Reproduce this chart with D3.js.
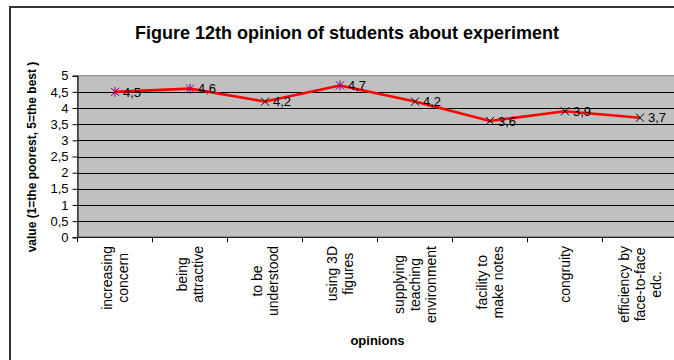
<!DOCTYPE html>
<html>
<head>
<meta charset="utf-8">
<script src="https://cdn.jsdelivr.net/npm/d3@7/dist/d3.min.js"></script>
<style>
  html, body { margin: 0; padding: 0; background: #fff; }
  svg { display: block; font-family: Arial, "Liberation Sans", sans-serif; }
</style>
</head>
<body>
<svg id="chart" width="674" height="360"></svg>
<script>
// Opinion categories (each entry split into the lines it is printed on)
const categories = [
  ["increasing", "concern"],
  ["being", "attractive"],
  ["to be", "understood"],
  ["using 3D", "figures"],
  ["supplying", "teaching", "environment"],
  ["facility to", "make notes"],
  ["congruity"],
  ["efficiency by", "face-to-face", "edc."]
];
// Mean score per opinion
const values = [4.5, 4.6, 4.2, 4.7, 4.2, 3.6, 3.9, 3.7];
// Marker style per point
const markers = ["star", "star", "x", "star", "x", "x", "x", "x"];
// Value axis ticks
const yTicks = [0, 0.5, 1, 1.5, 2, 2.5, 3, 3.5, 4, 4.5, 5];

const svg = d3.select("#chart");
const fmt = v => String(v).replace(".", ",");

const plot = { left: 77.5, right: 677.5, top: 75.7, bottom: 237.3 };

const x = d3.scaleBand()
  .domain(d3.range(categories.length))
  .range([plot.left, plot.right]);
const y = d3.scaleLinear().domain([0, 5]).range([plot.bottom, plot.top]);
const cx = i => x(i) + x.bandwidth() / 2;

// outer chart frame
svg.append("rect")
  .attr("x", 10).attr("y", 7).attr("width", 700).attr("height", 400)
  .attr("fill", "none").attr("stroke", "#333").attr("stroke-width", 2);

// title
svg.append("text")
  .attr("x", 347).attr("y", 39)
  .attr("text-anchor", "middle")
  .attr("font-weight", "bold").attr("font-size", 18)
  .text("Figure 12th opinion of students about experiment");

// plot background
svg.append("rect")
  .attr("x", plot.left).attr("y", plot.top)
  .attr("width", plot.right - plot.left).attr("height", plot.bottom - plot.top)
  .attr("fill", "#C0C0C0").attr("stroke", "#808080").attr("stroke-width", 1);

// gridlines
svg.append("g").selectAll("line")
  .data(yTicks.filter(t => t > 0 && t < 5))
  .join("line")
  .attr("x1", plot.left).attr("x2", plot.right)
  .attr("y1", d => Math.round(y(d)) + 0.5).attr("y2", d => Math.round(y(d)) + 0.5)
  .attr("stroke", "#000").attr("stroke-width", 1);

// value axis
const yAxis = d3.axisLeft(y).tickValues(yTicks).tickSize(5).tickPadding(4)
  .tickFormat(fmt);
const gy = svg.append("g")
  .attr("transform", `translate(${plot.left},0)`)
  .call(yAxis);
gy.select(".domain").attr("stroke", "#000");
gy.selectAll(".tick line").attr("stroke", "#000");
gy.selectAll(".tick text").attr("font-size", 13).attr("fill", "#000")
  .attr("font-family", "Arial, 'Liberation Sans', sans-serif");

// category axis (ticks at band boundaries)
const gx = svg.append("g");
gx.append("line")
  .attr("x1", plot.left).attr("x2", plot.right)
  .attr("y1", plot.bottom).attr("y2", plot.bottom)
  .attr("stroke", "#000");
gx.selectAll("line.tk")
  .data(d3.range(categories.length + 1))
  .join("line").attr("class", "tk")
  .attr("x1", i => plot.left + i * x.step()).attr("x2", i => plot.left + i * x.step())
  .attr("y1", plot.bottom).attr("y2", plot.bottom + 5)
  .attr("stroke", "#000");

// category labels, rotated, lines centred within each block
const lineGap = 16;
const labelTop = 246;
categories.forEach((lines, i) => {
  const g = svg.append("g");
  const texts = lines.map((ln, j) => g.append("text")
    .attr("font-size", 14).attr("text-anchor", "middle")
    .attr("dy", "0.35em")
    .text(ln));
  const maxLen = d3.max(texts, t => t.node().getComputedTextLength());
  const cy = labelTop + maxLen / 2;
  texts.forEach((t, j) => {
    const lx = cx(i) + (j - (lines.length - 1) / 2) * lineGap;
    t.attr("transform", `translate(${lx},${cy}) rotate(-90)`);
  });
});

// axis titles
svg.append("text")
  .attr("x", 377.5).attr("y", 345)
  .attr("text-anchor", "middle")
  .attr("font-weight", "bold").attr("font-size", 13)
  .text("opinions");

svg.append("text")
  .attr("transform", "translate(36,157) rotate(-90)")
  .attr("text-anchor", "middle")
  .attr("font-weight", "bold").attr("font-size", 12)
  .text("value (1=the poorest, 5=the best )");

// series line
const line = d3.line().x((d, i) => cx(i)).y(d => y(d));
svg.append("path")
  .datum(values)
  .attr("d", line)
  .attr("fill", "none").attr("stroke", "#FF0000").attr("stroke-width", 2.6)
  .attr("stroke-linejoin", "round");

// markers
const mk = svg.append("g");
values.forEach((v, i) => {
  const px = cx(i), py = y(v);
  const r = 4;
  const col = markers[i] === "star" ? "#800080" : "#000";
  const g = mk.append("g").attr("stroke", col).attr("stroke-width", 1);
  g.append("line").attr("x1", px - r).attr("y1", py - r).attr("x2", px + r).attr("y2", py + r);
  g.append("line").attr("x1", px - r).attr("y1", py + r).attr("x2", px + r).attr("y2", py - r);
  if (markers[i] === "star") {
    g.append("line").attr("x1", px).attr("y1", py - r - 1).attr("x2", px).attr("y2", py + r + 1);
  }
});

// data labels
svg.append("g").selectAll("text")
  .data(values)
  .join("text")
  .attr("x", (d, i) => cx(i) + 8)
  .attr("y", d => y(d))
  .attr("dy", "0.36em")
  .attr("font-size", 13)
  .text(d => fmt(d));
</script>
</body>
</html>
